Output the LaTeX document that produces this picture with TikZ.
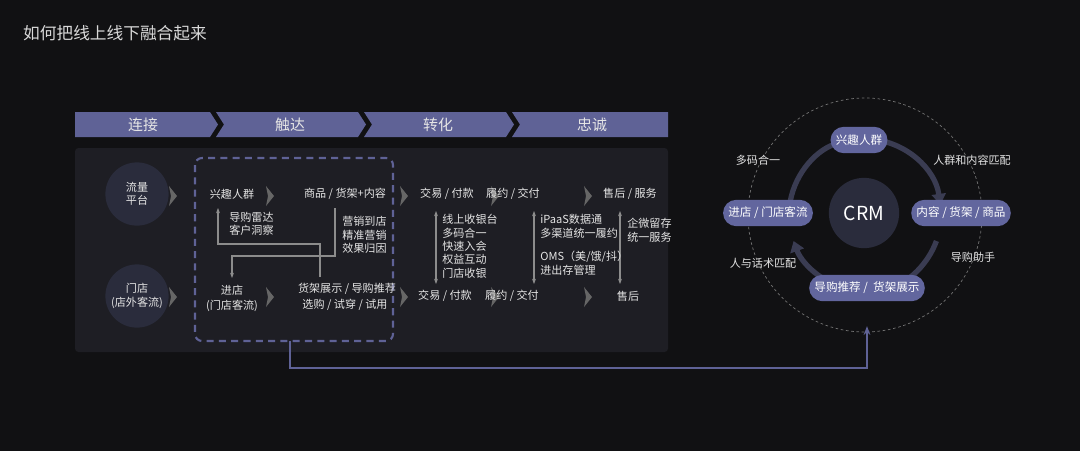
\documentclass[tikz,border=0pt]{standalone}
\usepackage{fontspec}
\setmainfont{Noto Sans CJK SC}
\usetikzlibrary{arrows.meta,shapes.geometric}
\definecolor{bgcol}{HTML}{111113}
\definecolor{panelcol}{HTML}{1E1E24}
\definecolor{barcol}{HTML}{5F6296}
\definecolor{pillcol}{HTML}{62669E}
\definecolor{ringcol}{HTML}{3A3C52}
\definecolor{circcol}{HTML}{2A2C3C}
\tikzset{
  txt/.style={text=white!90!black,font=\fontsize{6.3}{7.6}\selectfont,inner sep=0pt,align=center},
  lst/.style={txt,align=left,anchor=west},
  chev/.style={fill=white!40!black,draw=none},
  pill/.style={fill=pillcol,rounded corners=7.5pt,minimum height=15pt,text=white,font=\fontsize{6.6}{8}\selectfont,inner sep=3pt},
  bigc/.style={circle,fill=circcol,minimum size=34pt,inner sep=0pt},
  link/.style={draw=white!55!black,line width=0.6pt,-{Stealth[length=3pt]}},
  vdbl/.style={draw=white!55!black,line width=0.6pt,{Stealth[length=3pt]}-{Stealth[length=3pt]}},
  ring/.style={draw=ringcol,line width=3pt,-{Triangle[length=6pt,width=8pt]}}
}
\newcommand{\chevmark}[2]{\fill[chev] (#1-4,#2-10) -- (#1+4,#2) -- (#1-4,#2+10) -- (#1-2,#2) -- cycle;}
\begin{document}
\begin{tikzpicture}[x=0.02cm,y=-0.02cm]
\fill[bgcol] (0,0) rectangle (1080,451);
\useasboundingbox (0,0) rectangle (1080,451);
\node[anchor=west,text=white!85!black,font=\fontsize{9.5}{11}\selectfont] (title) at (17,33) {如何把线上线下融合起来};

% header bar
\fill[barcol] (75,112) -- (210,112) -- (218,124.5) -- (210,137) -- (75,137) -- cycle;
\fill[barcol] (216,112) -- (358,112) -- (366,124.5) -- (358,137) -- (216,137) -- (224,124.5) -- cycle;
\fill[barcol] (364,112) -- (506,112) -- (514,124.5) -- (506,137) -- (364,137) -- (372,124.5) -- cycle;
\fill[barcol] (512,112) -- (668,112) -- (668,137) -- (512,137) -- (520,124.5) -- cycle;
\node[txt,font=\fontsize{8.5}{10}\selectfont] (h1) at (143,124.5) {连接};
\node[txt,font=\fontsize{8.5}{10}\selectfont] (h2) at (290,124.5) {触达};
\node[txt,font=\fontsize{8.5}{10}\selectfont] (h3) at (438,124.5) {转化};
\node[txt,font=\fontsize{8.5}{10}\selectfont] (h4) at (592,124.5) {忠诚};

% panel
\fill[panelcol,rounded corners=2pt] (75,148) rectangle (668,352);
\node[bigc,minimum size=36pt] (liu) at (137,194) {};
\node[txt] at (liu) {流量\\平台};
\node[bigc,minimum size=36pt] (md) at (137,296) {};
\node[txt] at (md) {门店\\(店外客流)};
\draw[barcol,dashed,line width=1.2pt,dash pattern=on 4pt off 3pt,rounded corners=4pt] (195,158) rectangle (393,341);
\coordinate (boxb) at (290,341);

\foreach \x in {173,270,404,495,588} {
  \chevmark{\x}{196}
  \chevmark{\x}{297}
}

\node[txt] (xq) at (232,194) {兴趣人群};
\node[txt] (sp) at (345,194) {商品 / 货架+内容};
\node[lst] (ld) at (229,224) {导购雷达\\客户洞察};
\node[lst] (yx) at (342,235) {营销到店\\精准营销\\效果归因};
\node[txt] (jd) at (232,290) {进店};
\node[txt] (kl) at (232,306) {(门店客流)};
\node[txt] (hj) at (347,289) {货架展示 / 导购推荐};
\node[txt] (xg) at (345,305) {选购 / 试穿 / 试用};

\coordinate (a1) at (320,277);
\coordinate (a2) at (218,208);
\draw[link] (a1) |- (218,244) -- (a2);
\coordinate (b1) at (335,208);
\coordinate (b2) at (232,278);
\draw[link] (b1) |- (232,256) -- (b2);

\node[txt] (jy1) at (447,194) {交易 / 付款};
\node[txt] (ly1) at (513,194) {履约 / 交付};
\node[txt] (sh1) at (630,194) {售后 / 服务};
\node[txt] (jy2) at (445,296) {交易 / 付款};
\node[txt] (ly2) at (512,296) {履约 / 交付};
\node[txt] (sh2) at (628,296) {售后};
\foreach \x [count=\i] in {436,534,620} {
  \coordinate (t\i) at (\x,211);
  \coordinate (u\i) at (\x,284);
  \draw[vdbl] (t\i) -- (u\i);
}
\node[lst,anchor=north west] (sy) at (442,214) {线上收银台\\多码合一\\快速入会\\权益互动\\门店收银};
\node[lst,anchor=north west] (ip) at (540,214) {iPaaS数据通\\多渠道统一履约};
\node[lst,anchor=north west] (om) at (540,251) {OMS（美/饿/抖）\\进出存管理};
\node[lst,anchor=north west] (qw) at (627,218) {企微留存\\统一服务};

% CRM ring
\draw[white!45!black,dashed,line width=0.4pt,dash pattern=on 1.5pt off 1.5pt] (865,215) circle[radius=117];
\node[bigc,minimum size=40pt] (crm) at (864,213) {};
\node[text=white,font=\fontsize{11}{12}\selectfont,inner sep=0pt] at (crm) {CRM};
\draw[ring] (865,215) ++(-85:76) arc (-85:-8:76);
\draw[ring] (865,215) ++(20:76) arc (20:75:76);
\draw[ring] (865,215) ++(110:76) arc (110:160:76);
\draw[ring] (865,215) ++(-170:76) arc (-170:-103:76);
\node[pill] (n1) at (859,140) {兴趣人群};
\node[pill] (n2) at (961,213) {内容 / 货架 / 商品};
\node[pill] (n4) at (768,213) {进店 / 门店客流};
\node[pill] (n3) at (867,288) {导购推荐 /\ \ 货架展示};
\node[txt] (l1) at (758,160) {多码合一};
\node[txt] (l2) at (972,160) {人群和内容匹配};
\node[txt] (l3) at (763,263) {人与话术匹配};
\node[txt] (l4) at (973,257) {导购助手};

\draw[barcol,line width=1.2pt,-{Stealth[length=5pt]}] (boxb) -- (290,368) -| ([yshift=-14pt]n3.south);
\end{tikzpicture}
\end{document}
